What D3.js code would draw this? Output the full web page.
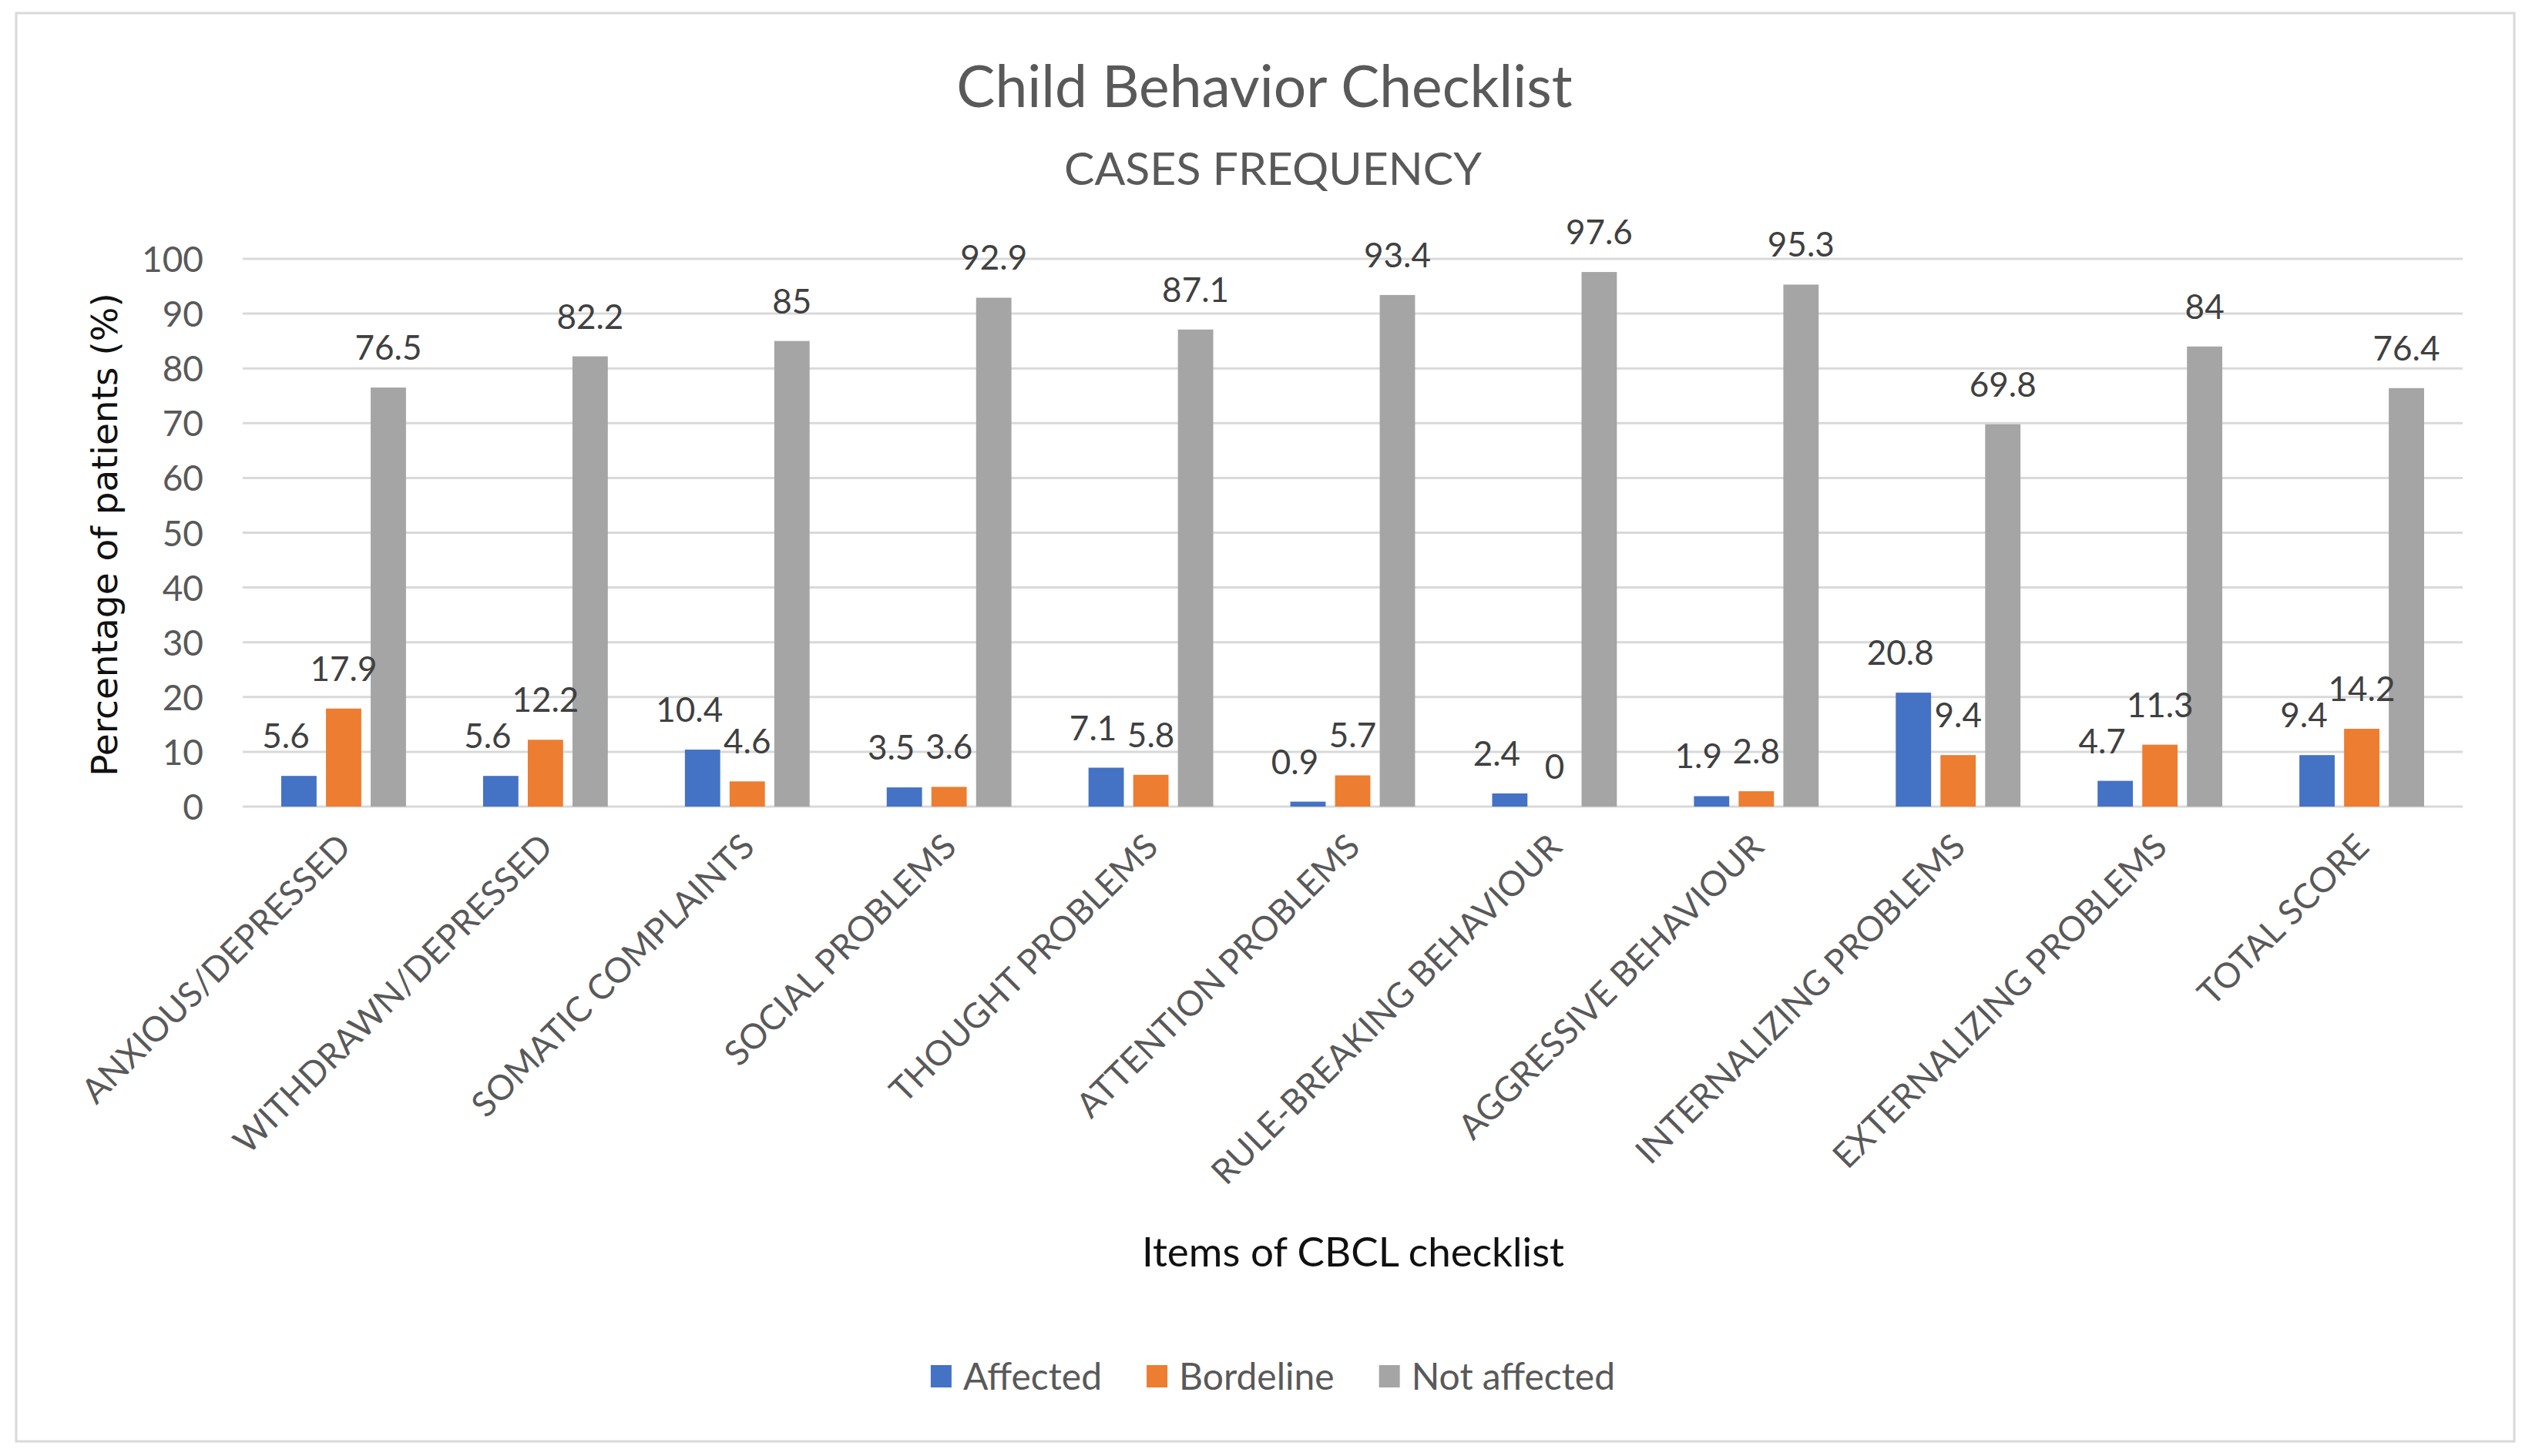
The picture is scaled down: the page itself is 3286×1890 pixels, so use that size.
<!DOCTYPE html>
<html>
<head>
<meta charset="utf-8">
<script src="https://cdn.jsdelivr.net/npm/d3@7"></script>
<style>
  body { margin: 0; background: #fff; }
  svg text { font-family: Lato, "Open Sans", sans-serif; }
</style>
</head>
<body>
<div class="chart"></div>
<script>
// data
const categories = ["ANXIOUS/DEPRESSED", "WITHDRAWN/DEPRESSED", "SOMATIC COMPLAINTS", "SOCIAL PROBLEMS",
  "THOUGHT PROBLEMS", "ATTENTION PROBLEMS", "RULE-BREAKING BEHAVIOUR", "AGGRESSIVE BEHAVIOUR",
  "INTERNALIZING PROBLEMS", "EXTERNALIZING PROBLEMS", "TOTAL SCORE"];
const seriesNames = ["Affected", "Bordeline", "Not affected"];
const affected = [5.6, 5.6, 10.4, 3.5, 7.1, 0.9, 2.4, 1.9, 20.8, 4.7, 9.4];
const bordeline = [17.9, 12.2, 4.6, 3.6, 5.8, 5.7, 0, 2.8, 9.4, 11.3, 14.2];
const notAffected = [76.5, 82.2, 85, 92.9, 87.1, 93.4, 97.6, 95.3, 69.8, 84, 76.4];
const yTicks = [0, 10, 20, 30, 40, 50, 60, 70, 80, 90, 100];
const colors = ["#4472C4", "#ED7D31", "#A5A5A5"];

const W = 3286, H = 1890;
const seriesValues = [affected, bordeline, notAffected];
const data = categories.map((c, i) => ({
  cat: c,
  vals: seriesNames.map((s, j) => ({ key: s, value: seriesValues[j][i] }))
}));

const svg = d3.select(".chart").append("svg")
  .attr("width", W).attr("height", H);

// outer frame
svg.append("rect")
  .attr("x", 21).attr("y", 17)
  .attr("width", 3242).attr("height", 1854)
  .attr("fill", "white")
  .attr("stroke", "#d9d9d9").attr("stroke-width", 3);

const x0 = d3.scaleBand()
  .domain(categories)
  .range([315, 3196])
  .paddingInner(0.382)
  .paddingOuter(0.191);

const x1 = d3.scaleBand()
  .domain(seriesNames)
  .range([0, x0.bandwidth()])
  .paddingInner(0.21);

const y = d3.scaleLinear()
  .domain([0, 100])
  .range([1047, 336]);

const color = d3.scaleOrdinal().domain(seriesNames).range(colors);

// y axis with grid
const yAxis = d3.axisLeft(y).tickValues(yTicks).tickSize(0).tickPadding(0);
const yAxisGroup = svg.append("g")
  .attr("transform", "translate(264,0)")
  .call(yAxis);
yAxisGroup.select(".domain").remove();
yAxisGroup.selectAll("text")
  .attr("font-family", "Lato, sans-serif")
  .attr("font-size", 46)
  .attr("fill", "#595959")
  .attr("dy", "0.36em");

svg.append("g")
  .selectAll("line")
  .data(yTicks)
  .join("line")
  .attr("x1", 315).attr("x2", 3196)
  .attr("y1", d => y(d)).attr("y2", d => y(d))
  .attr("stroke", "#d9d9d9")
  .attr("stroke-width", 3);

// bars
const groups = svg.append("g")
  .selectAll("g")
  .data(data)
  .join("g")
  .attr("transform", d => `translate(${x0(d.cat)},0)`);

groups.selectAll("rect")
  .data(d => d.vals)
  .join("rect")
  .attr("x", d => x1(d.key))
  .attr("y", d => y(d.value))
  .attr("width", x1.bandwidth())
  .attr("height", d => y(0) - y(d.value))
  .attr("fill", d => color(d.key));

// value labels (Affected ones sit a bit left, like the original)
groups.selectAll(".lbl")
  .data(d => d.vals)
  .join("text")
  .attr("class", "lbl")
  .attr("x", d => x1(d.key) + x1.bandwidth() / 2)
  .attr("dx", d => d.key === "Affected" ? -17 : 0)
  .attr("y", d => y(d.value) - 36)
  .attr("text-anchor", "middle")
  .attr("font-size", 44)
  .attr("fill", "#404040")
  .text(d => d.value);

// x axis labels
const xAxis = d3.axisBottom(x0).tickSize(0).tickPadding(0);
const xAxisGroup = svg.append("g")
  .attr("transform", "translate(0,1047)")
  .call(xAxis);
xAxisGroup.select(".domain").remove();
xAxisGroup.selectAll("text")
  .attr("font-family", "Lato, sans-serif")
  .attr("font-size", 45)
  .attr("fill", "#595959")
  .attr("text-anchor", "end")
  .attr("y", 0).attr("dy", 0)
  .attr("transform", "translate(12,55) rotate(-45)");

// titles
svg.append("text")
  .attr("x", 1641).attr("y", 139)
  .attr("text-anchor", "middle")
  .attr("font-size", 75)
  .attr("fill", "#595959")
  .text("Child Behavior Checklist");

svg.append("text")
  .attr("x", 1652).attr("y", 240)
  .attr("text-anchor", "middle")
  .attr("font-size", 59)
  .attr("fill", "#595959")
  .text("CASES FREQUENCY");

svg.append("text")
  .attr("x", 1756).attr("y", 1644)
  .attr("text-anchor", "middle")
  .attr("font-size", 53)
  .attr("fill", "#111")
  .text("Items of CBCL checklist");

svg.append("text")
  .attr("transform", "translate(152,694) rotate(-90)")
  .attr("text-anchor", "middle")
  .style("font-family", "'DejaVu Sans', sans-serif")
  .attr("font-size", 47)
  .attr("fill", "#111")
  .text("Percentage of patients (%)");

// legend
const legend = svg.append("g");
let lx = 0;
seriesNames.forEach((s, i) => {
  const g = legend.append("g").attr("transform", `translate(${lx},0)`);
  g.append("rect")
    .attr("x", 0).attr("y", -15)
    .attr("width", 27).attr("height", 29)
    .attr("fill", colors[i]);
  const t = g.append("text")
    .attr("x", 42).attr("y", 0).attr("dy", "0.35em")
    .attr("font-size", 48)
    .attr("fill", "#595959")
    .text(s);
  lx += 42 + t.node().getComputedTextLength() + 58;
});
const legendWidth = lx - 58;
legend.attr("transform", `translate(${1652 - legendWidth / 2},1787)`);
</script>
</body>
</html>
